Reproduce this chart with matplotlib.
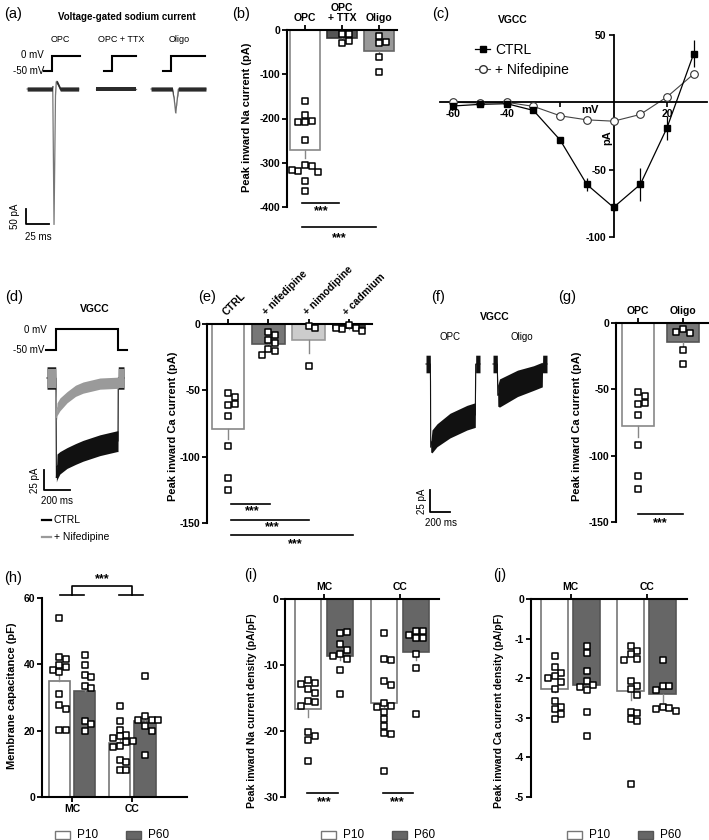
import numpy as np
import matplotlib
matplotlib.use('Agg')
import matplotlib.pyplot as plt
from matplotlib.lines import Line2D
from matplotlib.patches import Rectangle

plt.rcParams['font.family'] = ['Liberation Sans', 'DejaVu Sans']
plt.rcParams['axes.unicode_minus'] = False

# ============================ DATA ============================
# (a) voltage-gated Na current traces: time from step onset (ms), current (pA), noise half-width (pA)
na_opc_t = [-27, 0.3, 0.8, 2.2, 3.8, 4.6, 6, 9, 29]
na_opc_i = [0, 0, 10, -453, -20, 25, 20, 0, 0]
na_opc_hw = [7, 7, 2, 0, 1, 5, 7, 7, 7]
na_ttx_t = [-17.4, 26]
na_ttx_i = [0, 0]
na_ttx_hw = [7, 7]
na_oli_t = [-21.7, 1.5, 3.5, 5.1, 6.5, 8, 38]
na_oli_i = [0, 0, -35, -81, -40, 0, 0]
na_oli_hw = [7, 7, 3, 1, 3, 7, 7]
na_labels = ['OPC', 'OPC + TTX', 'Oligo']
na_step_mv = [-50, 0]
na_step_pre = 8.7
na_step_post = [30.4, 26.0, 37.0]

# (b) peak inward Na current (pA)
b_cats = ['OPC', 'OPC\n+ TTX', 'Oligo']
b_means = [-272, -18, -47]
b_sems = [17, 4, 13]
b_pts = [[-160, -192, -207, -205, -209, -248, -306, -307, -318, -320, -317, -342, -363],
         [-8, -9, -30, -25],
         [-14, -27, -30, -60, -96]]

# (c) I-V relation of VGCC
c_mv = [-60, -50, -40, -30, -20, -10, 0, 10, 20, 30]
c_ctrl = [-2.7, -1.5, -1, -6, -28, -61, -78, -61, -19, 36]
c_ctrl_err = [1, 1, 1, 1.5, 2, 5, 3, 12, 9, 10]
c_nif = [0, -0.5, 0, -3, -10, -13, -14, -9, 4, 21]
c_nif_err = [0.5, 0.5, 0.5, 0.5, 1, 1, 1, 1, 2, 2]

# (d) VGCC traces (ms from step onset, pA, noise half-width pA)
d_ctrl_t = [-69, -2, 0, 3, 8, 30, 85, 150, 208, 338, 469, 477, 479, 485, 523]
d_ctrl_i = [0, 0, -20, -125, -111, -106, -100, -95, -91, -84, -79, -79, 0, 0, 0]
d_ctrl_hw = [14, 14, 5, 5, 16, 14, 13, 13, 13, 13, 13, 13, 14, 14, 14]
d_nif_t = [-69, -2, 0, 3, 8, 30, 85, 150, 208, 338, 469, 477, 479, 523]
d_nif_i = [0, 0, -10, -50, -39, -33, -24, -16, -12, -7, -6, -6, 0, 0]
d_nif_hw = [12, 12, 4, 4, 8, 8, 7, 7, 7, 7, 7, 7, 12, 12]
d_step_t = [-77, 0, 0, 477, 477, 546]
d_step_v = [-50, -50, 0, 0, -50, -50]

# (e) peak inward Ca current (pA)
e_cats = ['CTRL', '+ nifedipine', '+ nimodipine', '+ cadmium']
e_means = [-79, -15, -12, -3]
e_sems = [8, 2, 10, 1]
e_pts = [[-52, -55, -61, -60, -69, -92, -116, -125],
         [-6, -8, -12, -14, -19, -20, -23],
         [-1.5, -3, -32],
         [-1, -3, -4, -5, -3]]

# (f) VGCC traces OPC / Oligo
f_opc_t = [-45, -2, 0, 2, 15, 65, 195, 365, 448, 450, 452, 495]
f_opc_i = [0, 0, -20, -95, -88, -81, -70, -61, -58, -30, 0, 0]
f_opc_hw = [10, 10, 3, 5, 13, 13, 14, 14, 14, 4, 10, 10]
f_oli_t = [-45, -2, 0, 3, 20, 200, 360, 448, 450, 452, 495]
f_oli_i = [0, 0, -15, -36, -33, -22, -16, -12, -6, 0, 0]
f_oli_hw = [10, 10, 4, 12, 16, 15, 14, 14, 4, 10, 10]

# (g) peak inward Ca current (pA)
g_cats = ['OPC', 'Oligo']
g_means = [-78, -14]
g_sems = [8, 4]
g_pts = [[-52, -55, -61, -60, -69, -92, -115, -125],
         [-4.5, -7.5, -7, -20, -31]]

# (h)-(j): MC / CC, P10 / P60
regions = ['MC', 'CC']
ages = ['P10', 'P60']
h_p10 = [35, 16.3]; h_p10_sem = [2.5, 1.2]
h_p60 = [32, 23];   h_p60_sem = [2.5, 2.0]
h_pts = [[54, 42.2, 41.7, 39.7, 39.1, 38.4, 37.7, 31.2, 27.8, 26.5, 20.3, 20.3],
         [42.9, 39.9, 36.9, 36.2, 33.6, 32.9, 22.8, 22, 20],
         [27.5, 23, 20.3, 18.8, 18.3, 17.8, 17, 16.5, 15.3, 15, 11.3, 10.6, 8.2, 8.2],
         [36.6, 24.3, 23.1, 23.1, 23.1, 21.3, 20, 12.8]]
i_p10 = [-16.7, -15.7]; i_p10_sem = [1.2, 0.6]
i_p60 = [-8.6, -8.0];   i_p60_sem = [0.7, 1.3]
i_pts = [[-12.3, -12.8, -12.9, -13.6, -14.3, -15.4, -15.6, -16.2, -20.1, -20.7, -21.3, -24.5],
         [-5.1, -5.0, -6.8, -7.7, -8.3, -8.6, -9.1, -10.7, -14.4],
         [-5.1, -9.1, -9.3, -12.4, -13.1, -15.8, -16.2, -16.4, -17.1, -18.2, -19.2, -20.3, -20.5, -26.1],
         [-4.8, -4.8, -5.5, -5.9, -5.9, -8.4, -10.5, -17.4]]
j_p10 = [-2.28, -2.32]; j_p10_sem = [0.08, 0.23]
j_p60 = [-2.16, -2.41]; j_p60_sem = [0.15, 0.2]
j_pts = [[-1.44, -1.71, -1.86, -1.95, -1.99, -2.09, -2.28, -2.57, -2.72, -2.78, -2.91, -3.02],
         [-1.19, -1.37, -1.81, -2.07, -2.16, -2.22, -2.30, -2.85, -3.46],
         [-1.19, -1.31, -1.39, -1.52, -1.54, -2.07, -2.2, -2.28, -2.43, -2.85, -2.89, -3.02, -3.08, -4.66],
         [-1.54, -2.2, -2.2, -2.3, -2.72, -2.74, -2.78, -2.82]]

# ============================ LAYOUT ============================
W, H = 709, 840
fig = plt.figure(figsize=(W / 100, H / 100), dpi=100)


def add_ax(x0, y0, x1, y1):
    ax = fig.add_axes([x0 / W, 1 - y1 / H, (x1 - x0) / W, (y1 - y0) / H])
    ax.patch.set_visible(False)
    return ax


ov = fig.add_axes([0, 0, 1, 1])
ov.set_xlim(0, W); ov.set_ylim(H, 0); ov.axis('off')


def T(x, y, s, **kw):
    kw.setdefault('fontsize', 7.5)
    kw.setdefault('ha', 'center')
    kw.setdefault('va', 'center')
    ov.text(x, y, s, **kw)


def trace_ax(box, xref_px, ms_per_px, yref_px, u_per_px):
    x0, y0, x1, y1 = box
    ax = add_ax(*box)
    ax.set_xlim((x0 - xref_px) * ms_per_px, (x1 - xref_px) * ms_per_px)
    ax.set_ylim(-(y1 - yref_px) * u_per_px, (yref_px - y0) * u_per_px)
    ax.axis('off')
    return ax


def draw_trace(ax, t, i, hw, t0, line_c, band_c, lw=0.8):
    t = np.asarray(t, float) + t0
    i = np.asarray(i, float)
    hw = np.asarray(hw, float)
    ax.plot(t, i, color=line_c, lw=lw, zorder=1, clip_on=False, solid_joinstyle='miter')
    ax.fill_between(t, i - hw, i + hw, color=band_c, lw=0, zorder=2, clip_on=False)


def swarm(ax, xc, vals, d_px=6.6, min_px=6.3):
    tr = ax.transData
    inv = tr.inverted()
    placed, xs = [], []
    for v in vals:
        pxc, py = tr.transform((xc, v))
        for k in [0, 1, -1, 2, -2, 3, -3, 4, -4]:
            px = pxc + k * d_px
            if all(np.hypot(px - qx, py - qy) >= min_px for qx, qy in placed):
                break
        placed.append((px, py))
        xs.append(inv.transform((px, py))[0])
    return xs


def bar_panel(box, xlim, ylim, yticks, centers, means, sems, pts, faces, edges, width, top=True):
    ax = add_ax(*box)
    ax.set_xlim(xlim); ax.set_ylim(ylim)
    ax.bar(centers, means, width=width, color=faces, edgecolor=edges, linewidth=1.2, zorder=2)
    for c, m, s in zip(centers, means, sems):
        ax.plot([c, c], [m, m + np.sign(m) * s], color='#888888', lw=1.0, zorder=3, clip_on=False)
    for c, p in zip(centers, pts):
        xs = swarm(ax, c, p)
        ax.scatter(xs, p, marker='s', s=19, facecolor='white', edgecolor='black',
                   linewidth=1.1, zorder=5, clip_on=False)
    ax.spines['right'].set_visible(False)
    if top:
        ax.spines['bottom'].set_visible(False)
        ax.xaxis.tick_top()
    else:
        ax.spines['top'].set_visible(False)
    for s in ax.spines.values():
        s.set_linewidth(1.5)
    ax.tick_params(direction='out', length=3.5, width=1.3, labelsize=7.5, pad=1.5)
    ax.set_yticks(yticks, [str(v) for v in yticks], fontweight='bold')
    return ax


def sig_line(ax, x0, x1, y, ys, xs=None):
    ax.plot([x0, x1], [y, y], color='black', lw=1.2, clip_on=False)
    ax.text((x0 + x1) / 2 if xs is None else xs, ys, '***', ha='center', va='center',
            fontsize=9, fontweight='bold', clip_on=False)


# ---------- panel labels ----------
for lab, x, y in [('(a)', 13, 14), ('(b)', 241, 14), ('(c)', 441, 14), ('(d)', 14, 297),
                  ('(e)', 207, 297), ('(f)', 438, 297), ('(g)', 567, 297), ('(h)', 13, 578),
                  ('(i)', 251, 575), ('(j)', 500, 575)]:
    T(x, y, lab, fontsize=10.5)

# ---------- (a) ----------
T(127, 17, 'Voltage-gated sodium current', fontsize=7, fontweight='bold')
na_onset_px = [52, 112, 171]
a_ms_px = 1 / 0.92
a_tr = trace_ax((0, 40, 230, 250), 52, a_ms_px, 89, 1 / 0.3)
a_pr = trace_ax((0, 46, 230, 78), 52, a_ms_px, 56, 50 / 15)
for k, (tt, ii, hh) in enumerate([(na_opc_t, na_opc_i, na_opc_hw),
                                  (na_ttx_t, na_ttx_i, na_ttx_hw),
                                  (na_oli_t, na_oli_i, na_oli_hw)]):
    t0 = (na_onset_px[k] - 52) * a_ms_px
    draw_trace(a_tr, tt, ii, hh, t0, '#777777', '#2b2b2b', lw=0.9)
    a_pr.plot(np.array([-na_step_pre, 0, 0, na_step_post[k]]) + t0,
              [na_step_mv[0], na_step_mv[0], na_step_mv[1], na_step_mv[1]],
              color='black', lw=1.5, clip_on=False, solid_joinstyle='miter')
for lab, x in zip(na_labels, [60, 121, 179]):
    T(x, 40, lab, fontsize=6.5, family=['Liberation Sans Narrow', 'Liberation Sans'])
T(44, 55, '0 mV', ha='right', fontsize=7, family=['Liberation Sans Narrow', 'Liberation Sans'])
T(44, 71, '-50 mV', ha='right', fontsize=7, family=['Liberation Sans Narrow', 'Liberation Sans'])
sbx = (26 - 52) * a_ms_px
a_tr.plot([sbx, sbx, sbx + 25], [-(209 - 89) / 0.3 + 0, -(224 - 89) / 0.3, -(224 - 89) / 0.3],
          color='black', lw=1.3, clip_on=False)
T(15, 216, '50 pA', rotation=90, fontsize=7, family=['Liberation Sans Narrow', 'Liberation Sans'])
T(38, 237, '25 ms', fontsize=7, family=['Liberation Sans Narrow', 'Liberation Sans'])

# ---------- (b) ----------
b_ax = bar_panel((287, 30, 397, 207), (-0.486, 2.486), (-400, 0), [0, -100, -200, -300, -400],
                 [0, 1, 2], b_means, b_sems, b_pts,
                 ['white', '#555555', '#999999'], ['#888888', '#333333', '#666666'], 0.81)
b_ax.set_xticks([0, 1, 2], b_cats, fontweight='bold', linespacing=1.0)
sig_line(b_ax, -0.08, 0.92, -391, -410, 0.45)
sig_line(b_ax, -0.08, 1.92, -445, -470, 0.92)
T(247, 117, 'Peak inward Na current (pA)', rotation=90, fontsize=8, fontweight='bold')

# ---------- (c) ----------
T(513, 20, 'VGCC', fontsize=7.5, fontweight='bold')
c_ax = add_ax(440, 35, 707, 237)
c_ax.set_xlim(-65, 35); c_ax.set_ylim(-100, 50)
c_ax.plot(c_mv, c_nif, '-', color='#444444', lw=0.8, zorder=2)
c_ax.errorbar(c_mv, c_nif, yerr=c_nif_err, fmt='none', ecolor='#444444', elinewidth=0.8, zorder=2)
c_ax.plot(c_mv, c_nif, 'o', ms=5.5, mfc='white', mec='#333333', mew=0.8, zorder=3)
c_ax.plot(c_mv, c_ctrl, '-', color='black', lw=0.9, zorder=4)
c_ax.errorbar(c_mv, c_ctrl, yerr=c_ctrl_err, fmt='none', ecolor='black', elinewidth=0.9, zorder=4)
c_ax.plot(c_mv, c_ctrl, 's', ms=5, color='black', zorder=5)
c_ax.spines['left'].set_position(('data', 0))
c_ax.spines['bottom'].set_position(('data', 0))
c_ax.spines['top'].set_visible(False); c_ax.spines['right'].set_visible(False)
for s in c_ax.spines.values():
    s.set_linewidth(1.3)
c_ax.tick_params(direction='out', length=3.5, width=1.2, labelsize=7.5, pad=1.5)
c_ax.set_xticks([-60, -40, -20, 20], ['-60', '-40', '', '20'], fontweight='bold')
c_ax.set_yticks([50, -50, -100], ['50', '-50', '-100'], fontweight='bold')
T(590, 110, 'mV', fontsize=8, fontweight='bold')
T(607, 138, 'pA', rotation=90, fontsize=8, fontweight='bold')
c_handles = [Line2D([], [], color='black', lw=0.9, marker='s', ms=5),
             Line2D([], [], color='#444444', lw=0.8, marker='o', ms=5.5, mfc='white', mec='#333333')]
fig.legend(c_handles, ['CTRL', '+ Nifedipine'], loc='upper left',
           bbox_to_anchor=(475 / W, 1 - 43 / H), bbox_transform=fig.transFigure,
           frameon=False, fontsize=10, handlelength=1.1, handletextpad=0.35,
           labelspacing=0.42, borderpad=0, borderaxespad=0)

# ---------- (d) ----------
T(95, 309, 'VGCC', fontsize=7.5, fontweight='bold')
d_ms_px = 1 / 0.13
d_tr = trace_ax((20, 355, 140, 545), 56, d_ms_px, 378, 1 / 0.8)
d_pr = trace_ax((20, 320, 140, 360), 56, d_ms_px, 329, 50 / 21)
draw_trace(d_tr, d_ctrl_t, d_ctrl_i, d_ctrl_hw, 0, '#111111', '#111111')
draw_trace(d_tr, d_nif_t, d_nif_i, d_nif_hw, 0, '#9a9a9a', '#9a9a9a')
d_pr.plot(d_step_t, d_step_v, color='black', lw=1.5, clip_on=False, solid_joinstyle='miter')
T(47, 330, '0 mV', ha='right', fontsize=7, family=['Liberation Sans Narrow', 'Liberation Sans'])
T(44, 350, '-50 mV', ha='right', fontsize=7, family=['Liberation Sans Narrow', 'Liberation Sans'])
dsx = (44 - 56) * d_ms_px
d_tr.plot([dsx, dsx, dsx + 200], [-(490 - 378) * 1.25 + 25, -(490 - 378) * 1.25, -(490 - 378) * 1.25],
          color='black', lw=1.3, clip_on=False)
T(35, 480, '25 pA', rotation=90, fontsize=7, family=['Liberation Sans Narrow', 'Liberation Sans'])
T(57, 501, '200 ms', fontsize=7, family=['Liberation Sans Narrow', 'Liberation Sans'])
ov.plot([42, 51], [520, 520], color='black', lw=1.6)
T(54, 520, 'CTRL', ha='left', fontsize=7.5)
ov.plot([42, 51], [537, 537], color='#9a9a9a', lw=1.6)
T(54, 537, '+ Nifedipine', ha='left', fontsize=7.5)

# ---------- (e) ----------
e_ax = bar_panel((207, 324, 372, 523), (-0.521, 3.573), (-150, 0), [0, -50, -100, -150],
                 [0, 1, 2, 3], e_means, e_sems, e_pts,
                 ['white', '#777777', '#cccccc', '#333333'],
                 ['#888888', '#555555', '#999999', '#222222'], 0.81)
e_ax.set_xticks([0, 1, 2, 3], e_cats, fontweight='bold', rotation=45, ha='left',
                rotation_mode='anchor')
sig_line(e_ax, 0.07, 1.04, -135.6, -141, 0.6)
sig_line(e_ax, 0.07, 2.01, -147.7, -153, 1.1)
sig_line(e_ax, 0.07, 3.1, -159, -166, 1.68)
T(173, 426, 'Peak inward Ca current (pA)', rotation=90, fontsize=8, fontweight='bold')

# ---------- (f) ----------
T(495, 317, 'VGCC', fontsize=7.5, fontweight='bold')
T(450, 337, 'OPC', fontsize=7, family=['Liberation Sans Narrow', 'Liberation Sans'])
T(522, 337, 'Oligo', fontsize=7, family=['Liberation Sans Narrow', 'Liberation Sans'])
f_ms_px = 10.0
f_tr = trace_ax((400, 340, 560, 530), 430.5, f_ms_px, 364, 1 / 0.88)
draw_trace(f_tr, f_opc_t, f_opc_i, f_opc_hw, 0, '#111111', '#111111')
draw_trace(f_tr, f_oli_t, f_oli_i, f_oli_hw, (497.5 - 430.5) * f_ms_px, '#111111', '#111111')
fsx = (430 - 430.5) * f_ms_px
f_tr.plot([fsx, fsx, fsx + 200], [-(512 - 364) / 0.88 + 25, -(512 - 364) / 0.88, -(512 - 364) / 0.88],
          color='black', lw=1.3, clip_on=False)
T(422, 501, '25 pA', rotation=90, fontsize=7, family=['Liberation Sans Narrow', 'Liberation Sans'])
T(441, 523, '200 ms', fontsize=7, family=['Liberation Sans Narrow', 'Liberation Sans'])

# ---------- (g) ----------
g_ax = bar_panel((616, 323, 708, 522), (-0.489, 1.556), (-150, 0), [0, -50, -100, -150],
                 [0, 1], g_means, g_sems, g_pts, ['white', '#777777'], ['#888888', '#555555'], 0.71)
g_ax.set_xticks([0, 1], g_cats, fontweight='bold')
sig_line(g_ax, 0.0, 1.0, -144, -151)
T(577, 426, 'Peak inward Ca current (pA)', rotation=90, fontsize=8, fontweight='bold')

# ---------- (h)-(j) ----------
off, bw = 0.2105, 0.355
hij_centers = [-off, off, 1 - off, 1 + off]
p_faces = ['white', '#666666', 'white', '#666666']
p_edges = ['#777777', '#555555', '#777777', '#555555']


def hij(box, xlim, ylim, yticks, p10, p10s, p60, p60s, pts, top):
    means = [p10[0], p60[0], p10[1], p60[1]]
    sems = [p10s[0], p60s[0], p10s[1], p60s[1]]
    ax = bar_panel(box, xlim, ylim, yticks, hij_centers, means, sems, pts, p_faces, p_edges, bw, top=top)
    ax.set_xticks([0, 1], regions, fontweight='bold')
    return ax


h_ax = hij((42, 598, 187, 797), (-0.5, 1.908), (0, 60), [0, 20, 40, 60],
           h_p10, h_p10_sem, h_p60, h_p60_sem, h_pts, top=False)
for xs_, ys_ in [([-0.2, 0.2], [60.9, 60.9]), ([0, 0, 1, 1], [60.9, 63.6, 63.6, 60.9]),
                 ([0.78, 1.18], [60.9, 60.9])]:
    h_ax.plot(xs_, ys_, color='black', lw=1.2, clip_on=False)
h_ax.text(0.5, 65.6, '***', ha='center', va='center', fontsize=9, fontweight='bold', clip_on=False)
T(12, 696, 'Membrane capacitance (pF)', rotation=90, fontsize=8, fontweight='bold')

i_ax = hij((285, 599, 439, 797), (-0.513, 1.513), (-30, 0), [0, -10, -20, -30],
           i_p10, i_p10_sem, i_p60, i_p60_sem, i_pts, top=True)
sig_line(i_ax, -0.22, 0.18, -29.4, -30.8, 0.0)
sig_line(i_ax, 0.78, 1.17, -29.4, -30.8, 0.97)
T(252, 711, 'Peak inward Na current density (pA/pF)', rotation=90, fontsize=7.5, fontweight='bold')

j_ax = hij((531, 599, 687, 797), (-0.52, 1.53), (-5, 0), [0, -1, -2, -3, -4, -5],
           j_p10, j_p10_sem, j_p60, j_p60_sem, j_pts, top=True)
T(499, 711, 'Peak inward Ca current density (pA/pF)', rotation=90, fontsize=7.5, fontweight='bold')

# legends P10 / P60
for bx in [55, 321, 567]:
    ov.add_patch(Rectangle((bx, 830.5), 15, 8.5, facecolor='white', edgecolor='#777777', lw=1.0))
    T(bx + 22, 835, ages[0], ha='left', fontsize=8.5)
    ov.add_patch(Rectangle((bx + 71, 830.5), 15, 8.5, facecolor='#666666', edgecolor='#555555', lw=1.0))
    T(bx + 93, 835, ages[1], ha='left', fontsize=8.5)

fig.savefig('out.png', dpi=100)
